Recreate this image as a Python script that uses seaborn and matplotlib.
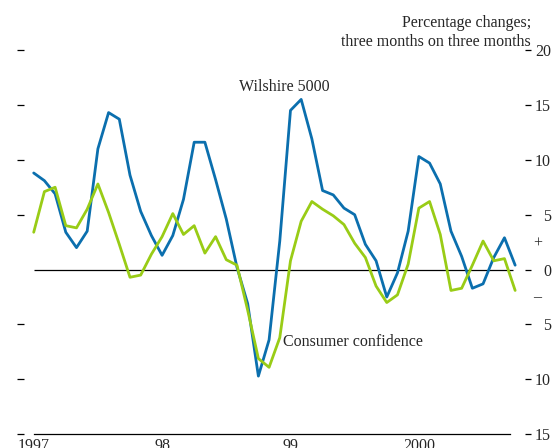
import numpy as np
import matplotlib
matplotlib.use("Agg")
import matplotlib.pyplot as plt
import matplotlib.ticker as mticker
import seaborn as sns

# monthly index from Jan 1997
months = np.arange(46)
wilshire = [8.8, 8.1, 6.9, 3.4, 2.0, 3.5, 11.0, 14.3, 13.7, 8.6,
            5.3, 3.1, 1.3, 3.1, 6.4, 11.6, 11.6, 8.2, 4.6, 0.2,
            -3.1, -9.7, -6.4, 2.6, 14.5, 15.5, 11.9, 7.2, 6.8, 5.6,
            5.0, 2.3, 0.8, -2.5, -0.3, 3.5, 10.3, 9.7, 7.8, 3.5,
            1.2, -1.7, -1.3, 1.1, 2.9, 0.4]
confidence = [3.4, 7.1, 7.5, 4.0, 3.8, 5.5, 7.8, 5.2, 2.3, -0.7,
              -0.5, 1.4, 3.0, 5.1, 3.2, 4.0, 1.5, 3.0, 0.9, 0.4,
              -3.7, -8.1, -8.9, -6.2, 0.8, 4.4, 6.2, 5.5, 4.9, 4.1,
              2.4, 1.1, -1.5, -3.0, -2.3, 0.5, 5.6, 6.2, 3.2, -1.9,
              -1.7, 0.4, 2.6, 0.8, 1.0, -1.9]
year_ticks = [0, 12, 24, 36]
year_labels = ["1997", "98", "99", "2000"]
y_ticks = [-15, -10, -5, 0, 5, 10, 15, 20]
left_ticks = [-15, -10, -5, 5, 10, 15, 20]

sns.set_style("white")
plt.rcParams["font.family"] = ["Liberation Serif", "DejaVu Serif"]
plt.rcParams["font.size"] = 11.5

blue = "#0b6fae"
green = "#99cc16"

fig = plt.figure(figsize=(5.53, 4.48), dpi=100)
ax = fig.add_axes([0.0302, 0.0306, 0.930, 0.8578])

sns.lineplot(x=months, y=wilshire, ax=ax, color=blue, lw=2.0, clip_on=False)
sns.lineplot(x=months, y=confidence, ax=ax, color=green, lw=2.0, clip_on=False)
ax.hlines(0, months[0], months[-1] - 0.2, color="black", lw=0.9, zorder=1)

ax.set_xlim(-1.589, 46.48)
ax.set_ylim(-15, 20)

for side in ["top", "left", "right"]:
    ax.spines[side].set_visible(False)
ax.spines["bottom"].set_bounds(months[0], months[-1] - 0.5)
ax.spines["bottom"].set(lw=0.9, color="black")

ax.set_xticks(year_ticks)
ax.set_xticklabels(year_labels)
ax.tick_params(axis="x", direction="in", length=3, width=0.9, pad=3, color="black")

ax.yaxis.tick_right()
ax.set_yticks(y_ticks)
ax.yaxis.set_major_formatter(mticker.FuncFormatter(lambda v, p: f"{abs(v):.0f}"))
ax.tick_params(axis="y", direction="in", length=4.5, width=0.9, pad=14.5, color="black")
for lab in ax.get_yticklabels():
    lab.set_ha("right")

sec = ax.secondary_yaxis("left")
sec.set_yticks(left_ticks)
sec.tick_params(direction="in", length=5, width=0.9, labelleft=False, color="black")
sec.spines["left"].set_visible(False)

ax.annotate("+", xy=(1.0, 2.4), xycoords=("axes fraction", "data"),
            xytext=(4.5, 0), textcoords="offset points", ha="center", va="center")
ax.annotate("\u2013", xy=(1.0, -2.5), xycoords=("axes fraction", "data"),
            xytext=(4.5, 0), textcoords="offset points", ha="center", va="center")

ax.text(1.0, 1.0, "Percentage changes;\nthree months on three months",
        transform=ax.transAxes, ha="right", va="bottom", linespacing=1.25)
ax.text(23.4, 16.6, "Wilshire 5000", ha="center", va="center")
ax.text(23.3, -6.55, "Consumer confidence", ha="left", va="center")

fig.savefig("out.png", dpi=100)
